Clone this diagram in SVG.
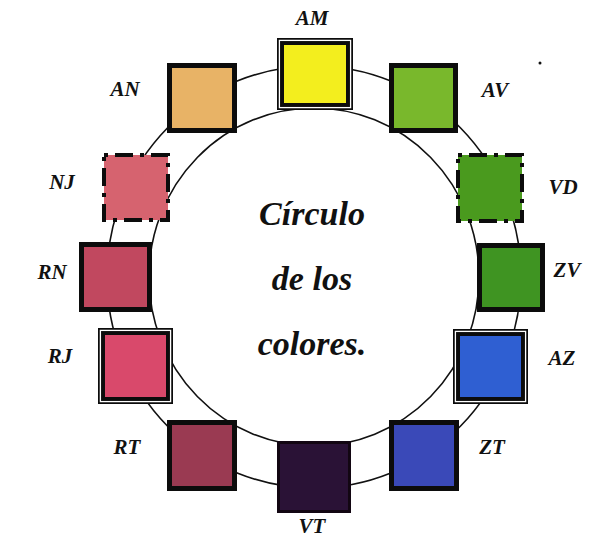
<svg xmlns="http://www.w3.org/2000/svg" width="603" height="537" viewBox="0 0 603 537">
<style>
.lbl{font-family:"Liberation Serif","Times New Roman",serif;font-weight:bold;font-style:italic;font-size:21px;fill:#111;text-anchor:middle}
.title{font-family:"Liberation Serif","Times New Roman",serif;font-weight:bold;font-style:italic;font-size:34px;fill:#111;text-anchor:middle}
.ring{fill:none;stroke:#111;stroke-width:1.6}
.plain{stroke:#0c0c0c;stroke-width:5}
.dash{stroke:#0c0c0c;stroke-width:4;stroke-dasharray:4 7 18 7}
.frame{fill:#0c0c0c}
.gap{fill:none;stroke:#fff;stroke-width:1.3}
</style>
<rect width="603" height="537" fill="#fff"/>
<g id="connectors">
<ellipse class="ring" cx="314" cy="277" rx="207" ry="211"/>
<ellipse class="ring" cx="314" cy="277" rx="165" ry="169"/>
</g>
<g id="AM">
<rect class="frame" x="277" y="38" width="76" height="72"/>
<rect class="gap" x="279.4" y="40.4" width="71.2" height="67.2"/>
<rect x="284" y="45" width="62" height="58" fill="#F3EE1E"/>
<text class="lbl" x="312" y="25">AM</text>
</g>
<g id="AV">
<rect class="plain" x="391.5" y="65.5" width="64" height="65" fill="#79B82C"/>
<text class="lbl" x="495" y="97">AV</text>
</g>
<g id="VD">
<rect class="dash" x="458" y="155" width="64" height="66" fill="#4A9A1E"/>
<text class="lbl" x="563" y="194">VD</text>
</g>
<g id="ZV">
<rect class="plain" x="479.5" y="245.5" width="63" height="64" fill="#3F9422"/>
<text class="lbl" x="567" y="277">ZV</text>
</g>
<g id="AZ">
<rect class="frame" x="453" y="329" width="75" height="75"/>
<rect class="gap" x="455.4" y="331.4" width="70.2" height="70.2"/>
<rect x="460" y="336" width="61" height="61" fill="#2F5FD2"/>
<text class="lbl" x="562" y="365">AZ</text>
</g>
<g id="ZT">
<rect class="plain" x="391.5" y="422.5" width="65" height="66" fill="#3A49B8"/>
<text class="lbl" x="492" y="454">ZT</text>
</g>
<g id="VT">
<rect x="278.5" y="442.5" width="71" height="69" fill="#2A1236" stroke="#120612" stroke-width="3"/>
<text class="lbl" x="312" y="533">VT</text>
</g>
<g id="RT">
<rect class="plain" x="169.5" y="422.5" width="65" height="66" fill="#9A3A52"/>
<text class="lbl" x="127" y="454">RT</text>
</g>
<g id="RJ">
<rect class="frame" x="98" y="328" width="75" height="76"/>
<rect class="gap" x="100.4" y="330.4" width="70.2" height="71.2"/>
<rect x="105" y="335" width="61" height="62" fill="#D9496B"/>
<text class="lbl" x="60" y="363">RJ</text>
</g>
<g id="RN">
<rect class="plain" x="81.5" y="244.5" width="68" height="65" fill="#C1485F"/>
<text class="lbl" x="52" y="279">RN</text>
</g>
<g id="NJ">
<rect class="dash" x="104" y="155" width="64" height="65" fill="#D6636F"/>
<text class="lbl" x="62" y="189">NJ</text>
</g>
<g id="AN">
<rect class="plain" x="169.5" y="65.5" width="65" height="65" fill="#E8B366"/>
<text class="lbl" x="125" y="96">AN</text>
</g>
<g id="center-text">
<text class="title" x="312" y="225">Círculo</text>
<text class="title" x="312" y="290">de los</text>
<text class="title" x="312" y="355">colores.</text>
</g>
<circle cx="540" cy="63" r="1.5" fill="#111"/>
</svg>
